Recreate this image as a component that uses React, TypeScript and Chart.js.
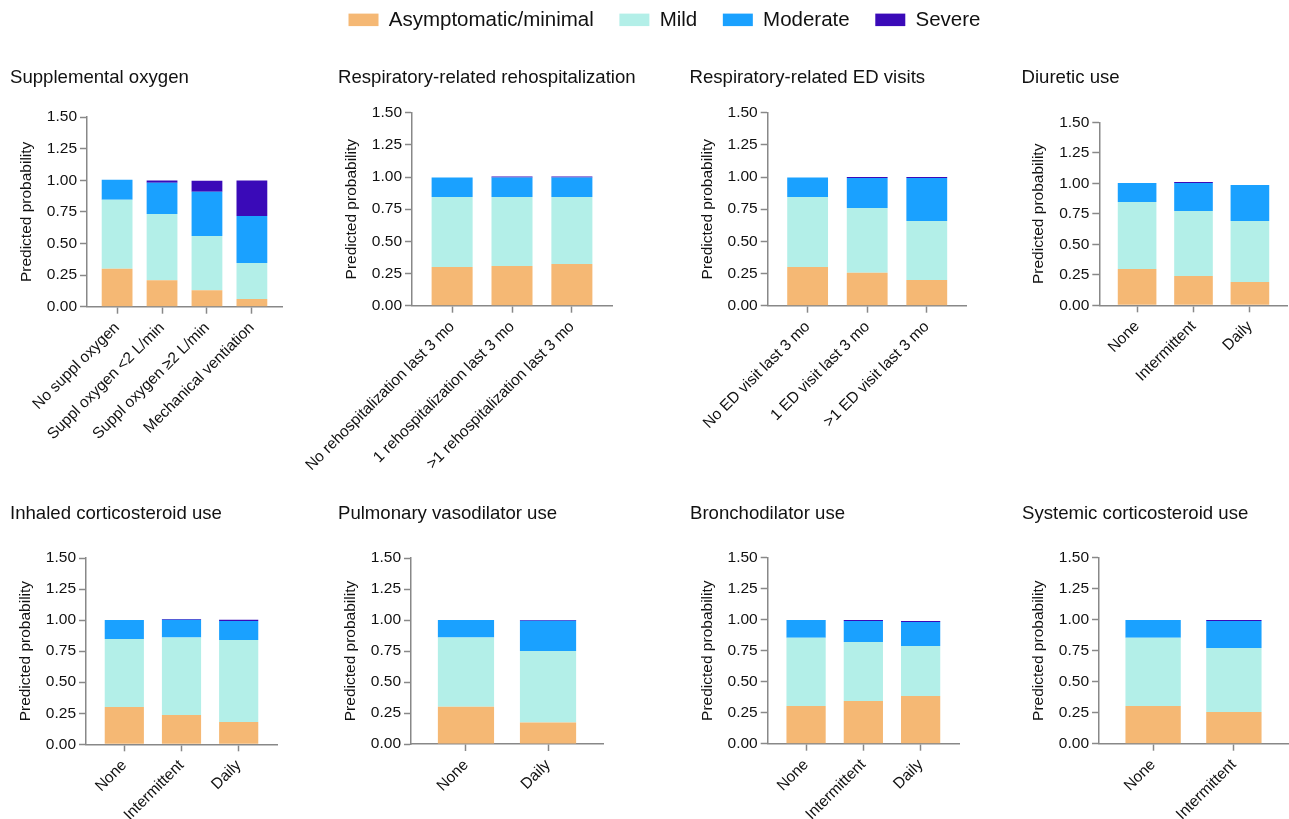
import React, { useEffect, useRef } from "react";
import { Chart, registerables } from "chart.js";

Chart.register(...registerables);

// ---------- data ----------
const SERIES_NAMES = ["Asymptomatic/minimal", "Mild", "Moderate", "Severe"];
const Y_TICKS = [0, 0.25, 0.5, 0.75, 1.0, 1.25, 1.5];
const Y_TITLE = "Predicted probability";

const oxygenTitle = "Supplemental oxygen";
const oxygenCategories = ["No suppl oxygen", "Suppl oxygen <2 L/min", "Suppl oxygen \u22652 L/min", "Mechanical ventiation"];
const oxygenAsym = [0.3, 0.21, 0.13, 0.06];
const oxygenMild = [0.545, 0.523, 0.43, 0.285];
const oxygenModerate = [0.158, 0.247, 0.348, 0.372];
const oxygenSevere = [0, 0.018, 0.088, 0.28];

const rehospTitle = "Respiratory-related rehospitalization";
const rehospCategories = ["No rehospitalization last 3 mo", "1 rehospitalization last 3 mo", ">1 rehospitalization last 3 mo"];
const rehospAsym = [0.3, 0.308, 0.324];
const rehospMild = [0.545, 0.537, 0.521];
const rehospModerate = [0.152, 0.152, 0.152];
const rehospSevere = [0, 0.008, 0.008];

const edTitle = "Respiratory-related ED visits";
const edCategories = ["No ED visit last 3 mo", "1 ED visit last 3 mo", ">1 ED visit last 3 mo"];
const edAsym = [0.3, 0.256, 0.2];
const edMild = [0.545, 0.503, 0.458];
const edModerate = [0.152, 0.233, 0.334];
const edSevere = [0, 0.008, 0.008];

const diureticTitle = "Diuretic use";
const diureticCategories = ["None", "Intermittent", "Daily"];
const diureticAsym = [0.298, 0.24, 0.191];
const diureticMild = [0.549, 0.533, 0.5];
const diureticModerate = [0.156, 0.23, 0.295];
const diureticSevere = [0, 0.008, 0];

const inhaledTitle = "Inhaled corticosteroid use";
const inhaledCategories = ["None", "Intermittent", "Daily"];
const inhaledAsym = [0.3, 0.236, 0.18];
const inhaledMild = [0.548, 0.623, 0.66];
const inhaledModerate = [0.152, 0.144, 0.153];
const inhaledSevere = [0, 0.006, 0.01];

const vasoTitle = "Pulmonary vasodilator use";
const vasoCategories = ["None", "Daily"];
const vasoAsym = [0.3, 0.174];
const vasoMild = [0.559, 0.577];
const vasoModerate = [0.141, 0.242];
const vasoSevere = [0, 0.007];

const bronchoTitle = "Bronchodilator use";
const bronchoCategories = ["None", "Intermittent", "Daily"];
const bronchoAsym = [0.304, 0.344, 0.384];
const bronchoMild = [0.551, 0.476, 0.404];
const bronchoModerate = [0.142, 0.169, 0.193];
const bronchoSevere = [0, 0.009, 0.009];

const systemicTitle = "Systemic corticosteroid use";
const systemicCategories = ["None", "Intermittent"];
const systemicAsym = [0.304, 0.255];
const systemicMild = [0.551, 0.517];
const systemicModerate = [0.142, 0.217];
const systemicSevere = [0, 0.008];

// ---------- styles / layout ----------
const PAGE_W = 1289;
const PAGE_H = 819;
const FONT = '"Liberation Sans", Arial, Helvetica, sans-serif';
const TEXT = "#111111";
const AXIS = "#888888";
const SERIES_COLORS = ["#F5B874", "#B3EFE8", "#1AA1FF", "#3A0AB8"];
const Y_W = 75;

type Panel = {
  title: string;
  categories: string[];
  series: number[][];
};

const PANELS: Panel[] = [
  { title: oxygenTitle, categories: oxygenCategories, series: [oxygenAsym, oxygenMild, oxygenModerate, oxygenSevere] },
  { title: rehospTitle, categories: rehospCategories, series: [rehospAsym, rehospMild, rehospModerate, rehospSevere] },
  { title: edTitle, categories: edCategories, series: [edAsym, edMild, edModerate, edSevere] },
  { title: diureticTitle, categories: diureticCategories, series: [diureticAsym, diureticMild, diureticModerate, diureticSevere] },
  { title: inhaledTitle, categories: inhaledCategories, series: [inhaledAsym, inhaledMild, inhaledModerate, inhaledSevere] },
  { title: vasoTitle, categories: vasoCategories, series: [vasoAsym, vasoMild, vasoModerate, vasoSevere] },
  { title: bronchoTitle, categories: bronchoCategories, series: [bronchoAsym, bronchoMild, bronchoModerate, bronchoSevere] },
  { title: systemicTitle, categories: systemicCategories, series: [systemicAsym, systemicMild, systemicModerate, systemicSevere] },
];

const BOXES = [
  { left: 87, right: 282, top: 117, bottom: 306.7, tx: 10, ty: 78 },
  { left: 412, right: 612, top: 112.7, bottom: 305.7, tx: 338, ty: 78 },
  { left: 767.7, right: 966.7, top: 112.7, bottom: 305.7, tx: 689.5, ty: 78 },
  { left: 1099.3, right: 1287.7, top: 122.3, bottom: 305.3, tx: 1021.5, ty: 78 },
  { left: 86, right: 277, top: 558, bottom: 744.3, tx: 10, ty: 514 },
  { left: 411, right: 603, top: 558, bottom: 744, tx: 338, ty: 514 },
  { left: 767.7, right: 959, top: 557.7, bottom: 743.7, tx: 690, ty: 514 },
  { left: 1099, right: 1288, top: 557.7, bottom: 743.7, tx: 1022, ty: 514 },
];

const panelTitlePlugin = {
  id: "panelTitle",
  afterDraw(chart: any, _args: any, opts: any) {
    const ctx = chart.ctx;
    ctx.save();
    ctx.font = `18.6px ${FONT}`;
    ctx.fillStyle = TEXT;
    ctx.textAlign = "left";
    ctx.textBaseline = "middle";
    ctx.fillText(opts.text, opts.x, opts.y);
    ctx.restore();
  },
};

function PanelChart({ panel, box }: { panel: Panel; box: (typeof BOXES)[number] }) {
  const ref = useRef<HTMLCanvasElement>(null);
  useEffect(() => {
    const canvas = ref.current!;
    const n = panel.categories.length;
    const xH = PAGE_H - box.bottom;
    const chart = new Chart(canvas, {
      type: "bar",
      data: {
        labels: panel.categories.map((_, i) => i),
        datasets: panel.series.map((d, k) => ({
          label: SERIES_NAMES[k],
          data: d,
          backgroundColor: SERIES_COLORS[k],
          borderWidth: 0,
          barPercentage: 0.685,
          categoryPercentage: 1,
        })),
      },
      options: {
        responsive: false,
        animation: false,
        devicePixelRatio: 1,
        events: [],
        layout: {
          padding: {
            left: box.left - Y_W,
            right: PAGE_W - box.right,
            top: box.top,
            bottom: 0,
          },
        },
        plugins: {
          legend: { display: false },
          tooltip: { enabled: false },
          title: { display: false },
          panelTitle: { text: panel.title, x: box.tx, y: box.ty },
        } as any,
        scales: {
          x: {
            type: "linear",
            stacked: true,
            min: -0.67,
            max: n - 1 + 0.67,
            offset: false,
            afterBuildTicks: (s: any) => {
              s.ticks = panel.categories.map((_, i) => ({ value: i }));
            },
            afterFit: (s: any) => {
              s.height = xH;
              s.paddingLeft = 0;
              s.paddingRight = 0;
              s.paddingTop = 0;
              s.paddingBottom = 0;
            },
            ticks: {
              autoSkip: false,
              minRotation: 45,
              maxRotation: 45,
              padding: 5,
              color: TEXT,
              font: { family: FONT, size: 15.5 },
              callback: (v: any) => panel.categories[Math.round(Number(v))] ?? "",
            },
            grid: {
              display: true,
              drawOnChartArea: false,
              drawTicks: true,
              tickLength: 7,
              tickWidth: 1.5,
              tickColor: AXIS,
              offset: false,
            },
            border: { display: true, color: AXIS, width: 1.5 },
          } as any,
          y: {
            type: "linear",
            stacked: true,
            min: 0,
            max: 1.5,
            afterBuildTicks: (s: any) => {
              s.ticks = Y_TICKS.map((v) => ({ value: v }));
            },
            afterFit: (s: any) => {
              s.width = Y_W;
              s.paddingLeft = 0;
              s.paddingRight = 0;
              s.paddingTop = 0;
              s.paddingBottom = 0;
            },
            ticks: {
              padding: 3,
              color: TEXT,
              font: { family: FONT, size: 15.5 },
              callback: (v: any) => Number(v).toFixed(2),
            },
            grid: {
              display: true,
              drawOnChartArea: false,
              drawTicks: true,
              tickLength: 7,
              tickWidth: 1.5,
              tickColor: AXIS,
            },
            border: { display: true, color: AXIS, width: 1.5 },
            title: {
              display: true,
              text: Y_TITLE,
              color: TEXT,
              font: { family: FONT, size: 15.5 },
              padding: { top: 5.5, bottom: 0 },
            },
          } as any,
        },
      },
      plugins: [panelTitlePlugin as any],
    });
    return () => chart.destroy();
  }, [panel, box]);
  return (
    <canvas
      ref={ref}
      width={PAGE_W}
      height={PAGE_H}
      style={{ position: "absolute", left: 0, top: 0, width: PAGE_W, height: PAGE_H }}
    />
  );
}

function LegendChart() {
  const ref = useRef<HTMLCanvasElement>(null);
  useEffect(() => {
    const chart = new Chart(ref.current!, {
      type: "bar",
      data: {
        labels: [],
        datasets: SERIES_NAMES.map((name, k) => ({
          label: name,
          data: [],
          backgroundColor: SERIES_COLORS[k],
          borderWidth: 0,
        })),
      },
      options: {
        responsive: false,
        animation: false,
        devicePixelRatio: 1,
        events: [],
        plugins: {
          legend: {
            display: true,
            position: "top",
            labels: {
              boxWidth: 30,
              boxHeight: 12.5,
              padding: 25.6,
              color: TEXT,
              font: { family: FONT, size: 20.5 },
            },
          },
          tooltip: { enabled: false },
        },
        scales: { x: { display: false }, y: { display: false } },
      },
    });
    return () => chart.destroy();
  }, []);
  return (
    <canvas
      ref={ref}
      width={799}
      height={200}
      style={{ position: "absolute", left: 265, top: -16, width: 799, height: 200 }}
    />
  );
}

export default function App() {
  return (
    <div
      style={{
        position: "fixed",
        left: 0,
        top: 0,
        width: PAGE_W,
        height: PAGE_H,
        background: "#ffffff",
        overflow: "hidden",
      }}
    >
      {PANELS.map((p, i) => (
        <PanelChart key={i} panel={p} box={BOXES[i]} />
      ))}
      <LegendChart />
    </div>
  );
}
